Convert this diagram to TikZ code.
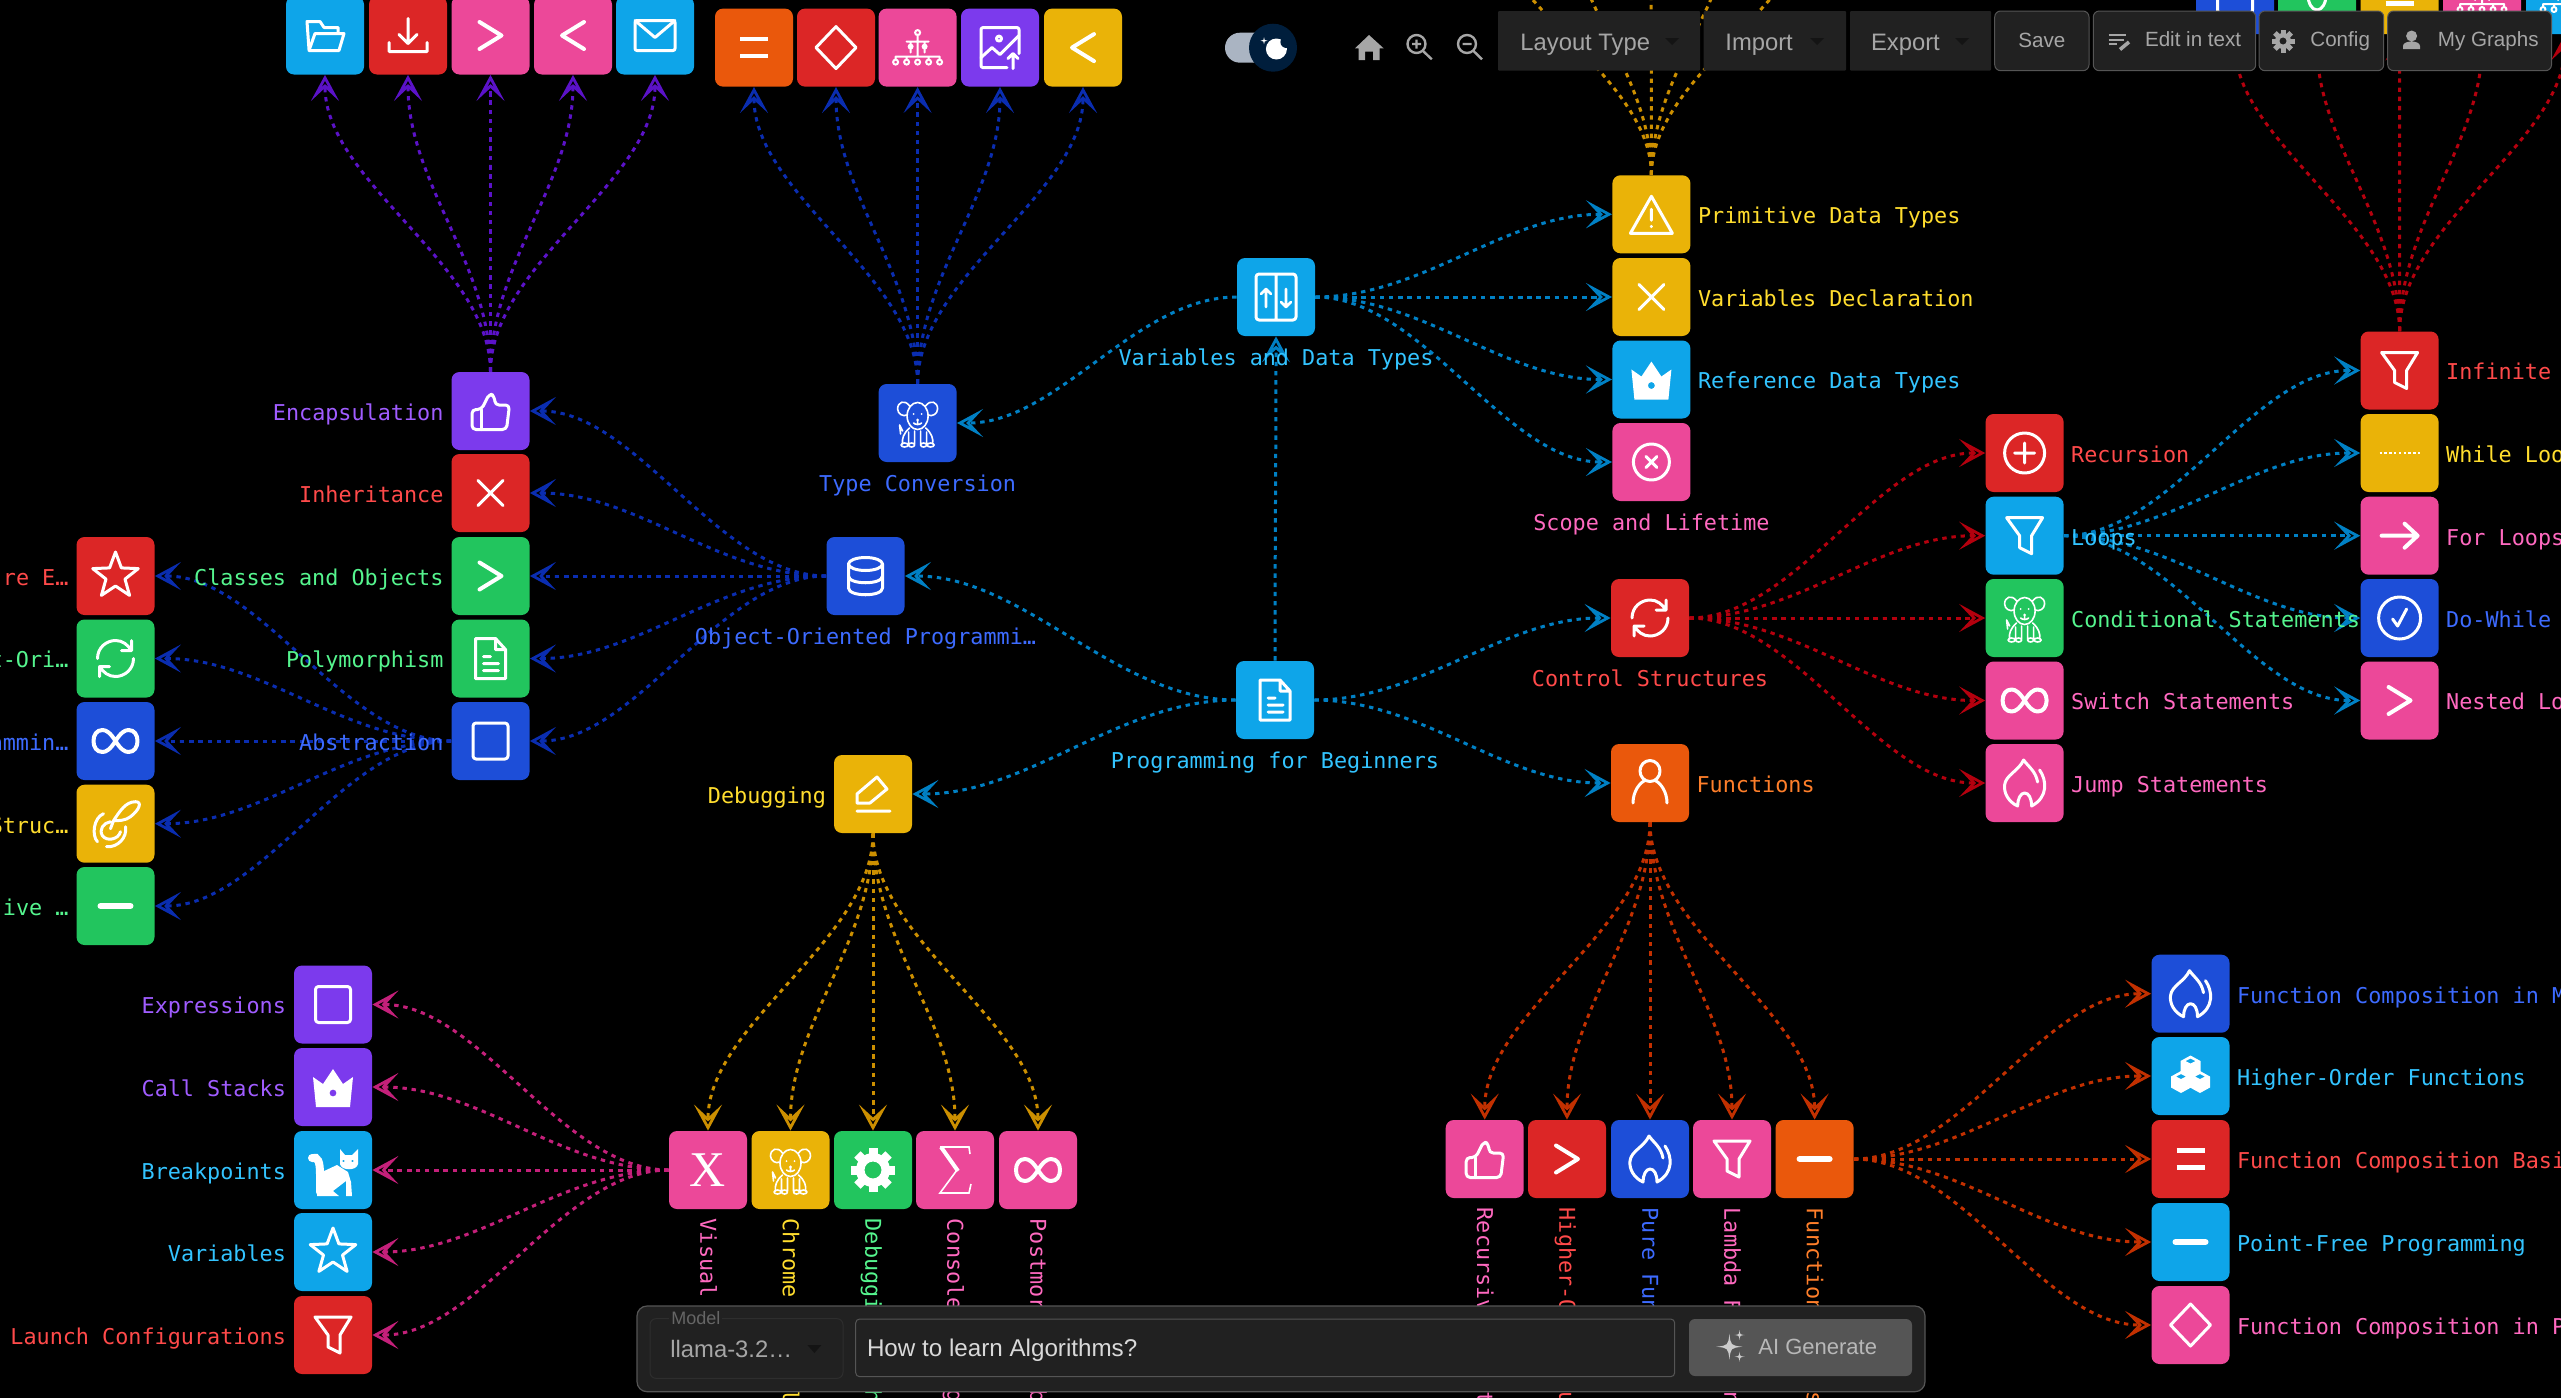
\documentclass[tikz,border=0pt]{standalone}
\usepackage{fontspec}
\setmainfont{Liberation Sans}
\setmonofont{DejaVu Sans Mono}
\newfontfamily\serifglyph{Liberation Serif}
\usepackage{tikz}
\usetikzlibrary{arrows.meta, calc, positioning, backgrounds}

% node fills
\definecolor{bviolet}{HTML}{7C3AED}
\definecolor{bred}{HTML}{DC2626}
\definecolor{bgreen}{HTML}{22C55E}
\definecolor{bblue}{HTML}{1D4ED8}
\definecolor{bsky}{HTML}{0EA5E9}
\definecolor{byellow}{HTML}{EAB308}
\definecolor{bpink}{HTML}{EC4899}
\definecolor{borange}{HTML}{EA580C}
% label colours
\definecolor{tviolet}{HTML}{A05CFF}
\definecolor{tred}{HTML}{FF4A4A}
\definecolor{tgreen}{HTML}{55F58E}
\definecolor{tblue}{HTML}{3D6BFF}
\definecolor{tsky}{HTML}{33C4FF}
\definecolor{tyellow}{HTML}{FFDD2E}
\definecolor{tpink}{HTML}{FF69C0}
\definecolor{torange}{HTML}{FF7F2A}
% link colours
\definecolor{eviolet}{HTML}{5B12C8}
\definecolor{eblue}{HTML}{0A2DB0}
\definecolor{esky}{HTML}{0080C4}
\definecolor{ered}{HTML}{B4000E}
\definecolor{eorange}{HTML}{C23000}
\definecolor{eyellow}{HTML}{CC8F00}
\definecolor{epink}{HTML}{C4207A}
% toolbar colours
\definecolor{barbg}{HTML}{212121}
\definecolor{barline}{HTML}{555555}
\definecolor{bartext}{HTML}{A6A6A6}
\definecolor{bardark}{HTML}{141414}
\definecolor{navybg}{HTML}{001E3C}
\definecolor{pillbg}{HTML}{AAB4C2}

\tikzset{
  box/.style={fill=b#1,minimum size=39pt,inner sep=0pt,rounded corners=4pt},
  lab/.style={text=t#1,font=\ttfamily\fontsize{10.9}{12}\selectfont,inner sep=0pt,text height=8pt,text depth=2.3pt},
  downlab/.style={lab=#1,rotate=-90,anchor=west},
  link/.style={draw=#1,line width=1.5pt,dash pattern=on 2.2pt off 2.4pt,-{Stealth[open,length=13pt,width=14pt,inset=6.5pt,line width=1.4pt]}},
  ic/.style={draw=white,line width=1.5pt,line cap=round,line join=round},
  menu/.style={fill=barbg,minimum height=29.85pt,inner sep=0pt,rounded corners=.5pt},
  btn/.style={fill=barbg,draw=barline,line width=.5pt,minimum height=29.85pt,inner sep=0pt,rounded corners=3pt,text=bartext,font=\fontsize{10.3}{12}\selectfont},
  bartxt/.style={text=bartext,inner sep=0pt,anchor=west,text height=8pt,text depth=2pt,font=\fontsize{#1}{14}\selectfont},
  icBlank/.pic={},
  icThumb/.pic={\draw[ic,rounded corners=2pt] (-9,-1.5)--(-1,-17.5)--(4,-15)--(4.5,-6)--(19,-6)--(16,18.5)--(-18.5,18.5)--(-18.5,-1.5)--cycle;
    \draw[ic] (-9,-1.5)--(-9,18.5);},
  icCross/.pic={\draw[ic] (-12.5,-12.5)--(12.5,12.5) (-12.5,12.5)--(12.5,-12.5);},
  icGt/.pic={\draw[ic,line width=2pt] (-11,-13.5)--(11,0)--(-11,13.5);},
  icLt/.pic={\draw[ic,line width=2pt] (11,-13.5)--(-11,0)--(11,13.5);},
  icMinus/.pic={\draw[ic,line width=3pt] (-15,0)--(15,0);},
  icEqual/.pic={\draw[ic,line width=2.3pt,line cap=butt] (-14,-8.5)--(14,-8.5) (-14,8.5)--(14,8.5);},
  icDiamond/.pic={\draw[ic] (0,-21)--(20,0)--(0,21)--(-20,0)--cycle;},
  icSquare/.pic={\draw[ic,rounded corners=1.5pt] (-17.5,-18)rectangle(17.5,18);},
  icDoc/.pic={\draw[ic] (-15,-20)--(5,-20)--(15,-9)--(15,20)--(-15,20)--cycle (5,-20)--(5,-9)--(15,-9) (-7,-2)--(0,-2) (-7,5)--(8,5) (-7,12)--(8,12);},
  icStar/.pic={\draw[ic] (0,-24)--(5.9,-8.1)--(22.8,-7.4)--(9.5,3.1)--(14.1,19.4)--(0,10)--(-14.1,19.4)--(-9.5,3.1)--(-22.8,-7.4)--(-5.9,-8.1)--cycle;},
  icCycle/.pic={\draw[ic] (-18,0) .. controls (-18,-11) and (-9,-18) .. (0,-18) .. controls (7,-18) and (12,-14) .. (16,-8) (16,-18)--(16,-8)--(6,-8)
    (18,0) .. controls (18,11) and (9,18) .. (0,18) .. controls (-7,18) and (-12,14) .. (-16,8) (-16,18)--(-16,8)--(-6,8);},
  icInf/.pic={\draw[ic,line width=2pt] (0,0) .. controls (5,-8) and (9,-11) .. (13,-11) .. controls (19,-11) and (22,-6) .. (22,0) .. controls (22,6) and (19,11) .. (13,11) .. controls (9,11) and (5,8) .. (0,0)
    .. controls (-5,-8) and (-9,-11) .. (-13,-11) .. controls (-19,-11) and (-22,-6) .. (-22,0) .. controls (-22,6) and (-19,11) .. (-13,11) .. controls (-9,11) and (-5,8) .. (0,0);},
  icRope/.pic={\draw[ic] (-12,-10) .. controls (-22,-6) and (-24,12) .. (-18,18) (-9,23) .. controls (2,24) and (12,14) .. (10,3)
    (-5,-2) .. controls (-12,-1) and (-17,6) .. (-13,12) .. controls (-9,18) and (3,16) .. (5,8)
    (-5,5)--(-2,-3) .. controls (4,-12) and (10,-22) .. (20,-22) .. controls (27,-22) and (24,-14) .. (15,-7) .. controls (10,-3) and (3,-3) .. (-2,-3);},
  icDb/.pic={\draw[ic] (0,-12) ellipse [x radius=17,y radius=6.5] (-17,-12)--(-17,12) .. controls (-17,21) and (17,21) .. (17,12)--(17,-12)
    (-17,0) .. controls (-17,9) and (17,9) .. (17,0);},
  icDog/.pic={\draw[ic,line width=.8pt] (0,-7) ellipse [x radius=10.5,y radius=13.5]
    (-8,-17) .. controls (-13,-24) and (-20,-21) .. (-20,-14) .. controls (-20,-9) and (-14,-6) .. (-11,-8)
    (8,-17) .. controls (13,-24) and (20,-21) .. (20,-14) .. controls (20,-9) and (14,-6) .. (11,-8)
    (-4,0) .. controls (-2,2) and (2,2) .. (4,0) (0,-2)--(0,1)
    (-8,5) .. controls (-14,10) and (-16,16) .. (-15,21) (8,5) .. controls (14,10) and (16,16) .. (15,21)
    (-9,9)--(-9,21) (-3,8)--(-3,21) (3,8)--(3,21) (9,9)--(9,21)
    (-13,22) ellipse [x radius=3.5,y radius=2] (-6,22) ellipse [x radius=3,y radius=2] (6,22) ellipse [x radius=3,y radius=2] (13,22) ellipse [x radius=3.5,y radius=2]
    (-15,8)--(-18,2)--(-17,11);
    \fill[white] (-4,-9) circle (1) (4,-9) circle (1) (0,-3) circle (1.6);},
  icSwap/.pic={\draw[ic,rounded corners=1.5pt] (-20,-23)rectangle(20,23) (0,-23)--(0,23);
    \draw[ic,line width=1.3pt] (-10,10)--(-10,-8) (-15,-3)--(-10,-8)--(-5,-3) (10,-8)--(10,10) (5,5)--(10,10)--(15,5);},
  icWarn/.pic={\draw[ic] (0,-18)--(21,19)--(-21,19)--cycle (0,-5)--(0,6) (0,12)--(0,12.5);},
  icCrown/.pic={\fill[white,even odd rule] (-20,-10)--(-10,-3)--(0,-18)--(10,-3)--(20,-10)--(17,20)--(-17,20)--cycle (0,6) circle (3.5);},
  icXcircle/.pic={\draw[ic] (0,0) circle (18) (-5.5,-5.5)--(5.5,5.5) (-5.5,5.5)--(5.5,-5.5);},
  icPlus/.pic={\draw[ic] (0,0) circle (20) (-10,0)--(10,0) (0,-10)--(0,10);},
  icCheck/.pic={\draw[ic] (0,0) circle (21) (-7,1)--(-2,8)--(7,-9);},
  icFunnel/.pic={\draw[ic] (-18,-18)--(18,-18)--(7,0)--(7,18)--(-5,12)--(-5,0)--cycle;},
  icDots/.pic={\draw[draw=white,line width=1.2pt,dash pattern=on 1.2pt off 1.2pt] (-20,0)--(20,0);},
  icArrow/.pic={\draw[ic,line width=2pt] (-18,0)--(18,0) (5,-12)--(18,0)--(5,12);},
  icFlame/.pic={\draw[ic] (15,-13) .. controls (22,-3) and (24,14) .. (7,23) .. controls (7,15) and (4,10) .. (0,10) .. controls (-4,10) and (-7,16) .. (-7,23) .. controls (-16,19) and (-21,10) .. (-20,2) .. controls (-19,-8) and (-6,-12) .. (-1,-23) .. controls (4,-16) and (11,-12) .. (13,-1);},
  icPencil/.pic={\draw[ic] (4,-17)--(14,-5)--(-3,9)--(-16,9)--(-16,0)--cycle (-16,17)--(17,17);},
  icPerson/.pic={\draw[ic] (0,-12) ellipse [x radius=10,y radius=10.5] (-17,20) .. controls (-17,8) and (-10,0) .. (-6,-2) (17,20) .. controls (17,8) and (10,0) .. (6,-2);},
  icGear/.pic={\foreach \a in {0,45,...,315} {\fill[white,rotate=\a] (-4.5,-22) rectangle (4.5,-10);}
    \fill[white,even odd rule] (0,0) circle (17) (0,0) circle (8.5);},
  icSigma/.pic={\draw[draw=white,line width=.8pt,line join=miter] (15,-16)--(14,-23)--(-15,-23) (2,0)--(-15,23)--(14,23)--(16,14);
    \draw[draw=white,line width=2pt] (-14,-23)--(3,1);},
  icCat/.pic={\fill[white] (-11,2)--(4,-5)--(15,2)--(18,12)--(19,26)--(13,26)--(13,11)--(0,21)--(6,26)--(-16,26)--cycle;
    \draw[draw=white,line width=4pt,line cap=round] (-21,-12) .. controls (-15,-14) and (-13,-8) .. (-13,4)--(-13,22);
    \fill[white,even odd rule] (7,-21)--(12,-15)--(19,-15)--(25,-21)--(25,-6) .. controls (24,1) and (8,1) .. (7,-6)--cycle (10.5,-9) circle (1.4) (19.5,-9) circle (1.4);},
  icCubes/.pic={\foreach \p in {(0,-9.5),(-9.5,6),(9.5,6)} {
      \fill[white,even odd rule,shift={\p}] (0,-11)--(10,-5.5)--(10,5.5)--(0,11)--(-10,5.5)--(-10,-5.5)--cycle (0,-8)--(5,-5.5)--(0,-3)--(-5,-5.5)--cycle;}},
  icFolder/.pic={\draw[ic] (-16,14)--(-18,-14)--(-5,-14)--(-1,-8)--(13,-8)--(13,-2) (-16,15)--(-10,-2)--(19,-2)--(14,15)--cycle;},
  icDown/.pic={\draw[ic] (0,-17)--(0,8) (-9,-1)--(0,8)--(9,-1) (-19,7)--(-19,16)--(19,16)--(19,7);},
  icMail/.pic={\draw[ic,rounded corners=1pt] (-20,-15)rectangle(20,15);\draw[ic] (-20,-15)--(0,2)--(20,-15);},
  icTree/.pic={\draw[ic,line width=1pt] (0,-13)--(0,9) (-11,-6)--(11,-6) (-7,-6)--(-7,5) (7,-6)--(7,5) (-22,9)--(22,9) (-22,9)--(-22,12) (-11,9)--(-11,12) (11,9)--(11,12) (22,9)--(22,12)
    (0,-15) circle (2.5) (-22,14.5) circle (2.5) (-11,14.5) circle (2.5) (0,14.5) circle (2.5) (11,14.5) circle (2.5) (22,14.5) circle (2.5);
    \fill[white] (-7,-1) circle (3) (7,-1) circle (3);},
  icImgUp/.pic={\draw[ic,rounded corners=1pt] (7,20)--(-19,20)--(-19,-20)--(19,-20)--(19,6);
    \draw[ic] (-19,10)--(-8,0)--(0,7)--(19,-12) (-1,-9) circle (2.5) (13,21)--(13,6) (8,11)--(13,6)--(18,11);},
  icOval/.pic={\draw[ic] (0,0) ellipse [x radius=9,y radius=15];},
  icMoon/.pic={\fill[white] (0,0) circle (10.5);\fill[navybg] (10,-7) circle (6);},
  icSpark/.pic={\fill[fill=#1] (0,-1) .. controls (.1,-.1) and (.1,-.1) .. (1,0) .. controls (.1,.1) and (.1,.1) .. (0,1) .. controls (-.1,.1) and (-.1,.1) .. (-1,0) .. controls (-.1,-.1) and (-.1,-.1) .. (0,-1);},
}

% curved links, the control points sit about a third of the way
\newcommand{\hlink}[3]{\coordinate (ma) at ($(#2)!.36!(#3)$);\coordinate (mb) at ($(#2)!.64!(#3)$);
  \draw[link=#1] (#2) .. controls (ma |- #2) and (mb |- #3) .. (#3);}
\newcommand{\vlink}[3]{\coordinate (ma) at ($(#2)!.36!(#3)$);\coordinate (mb) at ($(#2)!.64!(#3)$);
  \draw[link=#1] (#2) .. controls (#2 |- ma) and (#3 |- mb) .. (#3);}

\begin{document}
\begin{tikzpicture}[x=.5pt,y=-.5pt]
        \useasboundingbox (0,0) rectangle (2561,1398);

        % Row above Encapsulation
        \foreach \n/\x/\col/\ic in {rowa1/325/sky/icFolder, rowa2/408/red/icDown, rowa3/490.5/pink/icGt, rowa4/573/pink/icLt, rowa5/655/sky/icMail} {
          \node[box=\col] (\n) at (\x,35.5) {};
          \pic at (\n) {\ic};
        }
        % Row above Type Conversion
        \foreach \n/\x/\col/\ic in {rowb1/754/orange/icEqual, rowb2/836/red/icDiamond, rowb3/917.6/pink/icTree, rowb4/1000/violet/icImgUp, rowb5/1083/yellow/icLt} {
          \node[box=\col] (\n) at (\x,47.6) {};
          \pic at (\n) {\ic};
        }
        % Row above Infinite Loops, mostly under the toolbar
        \foreach \n/\x/\col/\ic in {rowc1/2235/blue/icSquare, rowc2/2317/green/icOval, rowc3/2399.5/yellow/icEqual, rowc4/2482/pink/icTree, rowc5/2565/sky/icTree} {
          \node[box=\col] (\n) at (\x,-5) {};
          \pic at (\n) {\ic};
        }
        % Row above Primitive Data Types, off the page
        \foreach \n/\x in {rowd1/1486, rowd2/1568, rowd3/1651, rowd4/1734, rowd5/1816} {
          \coordinate (\n) at (\x,-102);
        }

        % Middle topics with the label below
        \foreach \n/\x/\y/\col/\ic/\txt in {typeconv/917.6/423/blue/icDog/Type Conversion, oop/865.5/576/blue/icDb/Object-Oriented Programmi…, begin/1275/700/sky/icDoc/Programming for Beginners, vardata/1276/297/sky/icSwap/Variables and Data Types, scope/1651.4/462/pink/icXcircle/Scope and Lifetime, control/1650/618/red/icCycle/Control Structures} {
          \node[box=\col] (\n) at (\x,\y) {};
          \pic at (\n) {\ic};
          \node[lab=\col,below=6.3pt of \n] (\n-t) {\txt};
        }

        % Labels on the left
        \foreach \n/\y/\col/\ic/\txt in {encap/411/violet/icThumb/Encapsulation, inherit/493/red/icCross/Inheritance, classes/576/green/icGt/Classes and Objects, poly/658.5/green/icDoc/Polymorphism, abstr/741/blue/icSquare/Abstraction} {
          \node[box=\col] (\n) at (490.5,\y) {};
          \pic at (\n) {\ic};
          \node[lab=\col,left=3.6pt of \n,yshift=-1.8pt] (\n-t) {\txt};
        }
        \foreach \n/\y/\col/\ic/\txt in {far1/576/red/icStar/re E…, far2/658.5/green/icCycle/t-Ori…, far3/741/blue/icInf/ammin…, far4/823.7/yellow/icRope/Struc…, far5/906/green/icMinus/ive …} {
          \node[box=\col] (\n) at (115.5,\y) {};
          \pic at (\n) {\ic};
          \node[lab=\col,left=3.6pt of \n,yshift=-1.8pt] (\n-t) {\txt};
        }
        \foreach \n/\y/\col/\ic/\txt in {expr/1004.5/violet/icSquare/Expressions, stacks/1087/violet/icCrown/Call Stacks, breakp/1170/sky/icCat/Breakpoints, vars/1252/sky/icStar/Variables, launch/1335/red/icFunnel/Launch Configurations} {
          \node[box=\col] (\n) at (333,\y) {};
          \pic at (\n) {\ic};
          \node[lab=\col,left=3.6pt of \n,yshift=-1.8pt] (\n-t) {\txt};
        }
        \node[box=yellow] (debug) at (873,794) {};
        \pic at (debug) {icPencil};
        \node[lab=yellow,left=3.6pt of debug,yshift=-1.8pt] (debug-t) {Debugging};

        % Labels on the right
        \foreach \n/\y/\col/\ic/\txt in {prim/214.3/yellow/icWarn/Primitive Data Types, decl/297/yellow/icCross/Variables Declaration, refs/379.5/sky/icCrown/Reference Data Types} {
          \node[box=\col] (\n) at (1651.4,\y) {};
          \pic at (\n) {\ic};
          \node[lab=\col,right=3.4pt of \n,yshift=-1.8pt] (\n-t) {\txt};
        }
        \node[box=orange] (funcs) at (1650,783) {};
        \pic at (funcs) {icPerson};
        \node[lab=orange,right=3.4pt of funcs,yshift=-1.8pt] (funcs-t) {Functions};
        \foreach \n/\y/\col/\ic/\txt in {recur/453/red/icPlus/Recursion, loops/535.7/sky/icFunnel/Loops, cond/618/green/icDog/Conditional Statements, switch/700.5/pink/icInf/Switch Statements, jump/783/pink/icFlame/Jump Statements} {
          \node[box=\col] (\n) at (2024.6,\y) {};
          \pic at (\n) {\ic};
          \node[lab=\col,right=3.4pt of \n,yshift=-1.8pt] (\n-t) {\txt};
        }
        \foreach \n/\y/\col/\ic/\txt in {infin/370.5/red/icFunnel/Infinite, while/453/yellow/icDots/While Loo, forl/535.7/pink/icArrow/For Loops, dowh/618/blue/icCheck/Do-While, nest/700.5/pink/icGt/Nested Lo} {
          \node[box=\col] (\n) at (2399.6,\y) {};
          \pic at (\n) {\ic};
          \node[lab=\col,right=3.4pt of \n,yshift=-1.8pt] (\n-t) {\txt};
        }
        \foreach \n/\y/\col/\ic/\txt in {comp1/993.7/blue/icFlame/Function Composition in M, comp2/1076/sky/icCubes/Higher-Order Functions, comp3/1159/red/icEqual/Function Composition Basi, comp4/1242/sky/icMinus/Point-Free Programming, comp5/1325/pink/icDiamond/Function Composition in P} {
          \node[box=\col] (\n) at (2190.5,\y) {};
          \pic at (\n) {\ic};
          \node[lab=\col,right=3.4pt of \n,yshift=-1.8pt] (\n-t) {\txt};
        }

        % Rows with labels running down
        \foreach \n/\x/\col/\ic/\txt in {tool1/708/pink/icBlank/Visual, tool2/790.5/yellow/icDog/Chrome, tool3/873/green/icGear/Debuggi, tool4/955/pink/icSigma/Console, tool5/1038/pink/icInf/Postmor} {
          \node[box=\col] (\n) at (\x,1170) {};
          \pic at (\n) {\ic};
          \node[downlab=\col] (\n-t) at ($(\n.south)+(-2,9)$) {\txt};
        }
        \node[text=white,inner sep=0pt,font=\serifglyph\fontsize{25}{25}\selectfont] (tool1-x) at (tool1) {X};
        \foreach \n/\x/\col/\ic/\txt in {fn1/1484.7/pink/icThumb/Recursiv, fn2/1567/red/icGt/Higher-O, fn3/1650/blue/icFlame/Pure Fun, fn4/1732/pink/icFunnel/Lambda F, fn5/1814.6/orange/icMinus/Function} {
          \node[box=\col] (\n) at (\x,1159) {};
          \pic at (\n) {\ic};
          \node[downlab=\col] (\n-t) at ($(\n.south)+(-2,9)$) {\txt};
        }
        % What shows of those labels below the prompt bar
        \foreach \n/\col/\txt in {tool2/yellow/l, tool3/green/h, tool4/pink/g, tool5/pink/b} {
          \node[downlab=\col] (\n-e) at ($(\n.south)+(-2,180)$) {\txt};
        }
        \foreach \n/\col/\txt in {fn1/pink/t, fn2/red/u, fn4/pink/n, fn5/orange/s} {
          \node[downlab=\col] (\n-e) at ($(\n.south)+(-2,193)$) {\txt};
        }

        % Links go under the labels
        \begin{pgfonlayer}{background}
        \fill[black] (0,0) rectangle (2561,1398);
        \vlink{esky}{begin.north}{vardata.south}
        \hlink{esky}{vardata.west}{typeconv.east}
        \hlink{esky}{begin.west}{oop.east}
        \hlink{esky}{begin.west}{debug.east}
        \hlink{esky}{begin.east}{control.west}
        \hlink{esky}{begin.east}{funcs.west}
        \foreach \n in {prim,decl,refs,scope} {\hlink{esky}{vardata.east}{\n.west}}
        \foreach \n in {encap,inherit,classes,poly,abstr} {\hlink{eblue}{oop.west}{\n.east}}
        \foreach \n in {far1,far2,far3,far4,far5} {\hlink{eblue}{abstr.west}{\n.east}}
        \foreach \n in {rowa1,rowa2,rowa3,rowa4,rowa5} {\vlink{eviolet}{encap.north}{\n.south}}
        \foreach \n in {rowb1,rowb2,rowb3,rowb4,rowb5} {\vlink{eblue}{typeconv.north}{\n.south}}
        \foreach \n in {rowc1,rowc2,rowc3,rowc4,rowc5} {\vlink{ered}{infin.north}{\n.south}}
        \foreach \n in {rowd1,rowd2,rowd3,rowd4,rowd5} {\vlink{eyellow}{prim.north}{\n}}
        \foreach \n in {recur,loops,cond,switch,jump} {\hlink{ered}{control.east}{\n.west}}
        \foreach \n in {infin,while,forl,dowh,nest} {\hlink{esky}{loops.east}{\n.west}}
        \foreach \n in {fn1,fn2,fn3,fn4,fn5} {\vlink{eorange}{funcs.south}{\n.north}}
        \foreach \n in {comp1,comp2,comp3,comp4,comp5} {\hlink{eorange}{fn5.east}{\n.west}}
        \foreach \n in {tool1,tool2,tool3,tool4,tool5} {\vlink{eyellow}{debug.south}{\n.north}}
        \foreach \n in {expr,stacks,breakp,vars,launch} {\hlink{epink}{tool1.west}{\n.east}}
        \end{pgfonlayer}

        % Theme switch and view buttons
        \fill[pillbg,rounded corners=7.5pt] (1225,32.7) rectangle (1290,62.7);
        \node[circle,fill=navybg,minimum size=24pt,inner sep=0pt] (theme) at (1273,47.7) {};
        \pic at (1276.4,49) {icMoon};
        \pic[scale=3.5] at (1264,40.7) {icSpark=white};
        \fill[bartext] (1369,35)--(1383.6,48.3)--(1379.5,48.3)--(1379.5,60)--(1373,60)--(1373,51.7)--(1365,51.7)--(1365,60)--(1358.7,60)--(1358.7,48.3)--(1355,48.3)--cycle;
        \draw[bartext,line width=1.2pt] (1416.5,44) circle (9) (1423,51)--(1431.8,59.3) (1412,44)--(1421,44) (1416.5,39.5)--(1416.5,48.5);
        \draw[bartext,line width=1.2pt] (1467,44) circle (9) (1473.5,51)--(1482,59.3) (1462.5,44)--(1471.5,44);

        % Toolbar
        \node[menu,minimum width=101pt] (layoutbtn) at (1599,40.85) {};
        \node[menu,minimum width=71.25pt] (importbtn) at (1774.75,40.85) {};
        \node[menu,minimum width=70.5pt] (exportbtn) at (1920.5,40.85) {};
        \node[bartxt=11.9] (layoutbtn-t) at (1520,44) {Layout Type};
        \node[bartxt=11.9] (importbtn-t) at (1725,44) {Import};
        \node[bartxt=11.9] (exportbtn-t) at (1870.6,44) {Export};
        \foreach \x in {1672,1817,1962} {
          \fill[bardark] (\x-7,38)--(\x+7,38)--(\x,45)--cycle;
        }
        \node[btn,minimum width=47.15pt] (savebtn) at (2041.85,40.85) {Save};
        \node[btn,minimum width=81.2pt] (editbtn) at (2174.5,40.85) {};
        \node[btn,minimum width=62.35pt] (configbtn) at (2321.35,40.85) {};
        \node[btn,minimum width=81.9pt] (graphsbtn) at (2469.6,40.85) {};
        \node[bartxt=10.3] (editbtn-t) at (2144.6,40.7) {Edit in text};
        \node[bartxt=10.3] (configbtn-t) at (2310,40.7) {Config};
        \node[bartxt=10.3] (graphsbtn-t) at (2437.5,40.7) {My Graphs};
        \draw[bartext,line width=1pt] (2108.7,35)--(2126,35) (2108.7,39.5)--(2124,39.5) (2108.7,44)--(2117,44);
        \draw[bartext,line width=1.8pt] (2129,42)--(2120,49.5);
        \foreach \a in {0,45,...,315} {\fill[bartext,shift={(2283,41)},rotate=\a] (-2.5,-11.5) rectangle (2.5,-6);}
        \fill[bartext,even odd rule] (2283,41) circle (8) (2283,41) circle (3.6);
        \fill[bartext] (2411.6,36) circle (5.5) (2403,49)--(2403,46) .. controls (2403,40) and (2420,40) .. (2420,46)--(2420,49)--cycle;

        % Prompt bar
        \node[menu,draw=barline,line width=.6pt,rounded corners=5pt,minimum width=644pt,minimum height=42.85pt] (promptbar) at (1281,1348.85) {};
        \node[menu,draw=barline!25!barbg,line width=.5pt,rounded corners=3pt,minimum width=96.5pt] (modelbox) at (746.5,1348.5) {};
        \node[bartxt=9,text=barline!90!white,fill=barbg,inner xsep=1pt] (modelbox-t) at (669,1318) {Model};
        \node[bartxt=11.9,text=bartext] (modelbox-v) at (670,1351) {llama-3.2…};
        \fill[bardark] (807.4,1345)--(821.4,1345)--(814.4,1353)--cycle;
        \node[menu,draw=barline,line width=.5pt,rounded corners=2pt,minimum width=409.5pt,minimum height=28.85pt] (askbox) at (1265.2,1347.85) {};
        \node[bartxt=12.1,text=white!85!black] (askbox-t) at (866.6,1350) {How to learn Algorithms?};
        \node[menu,fill=barline,rounded corners=3pt,minimum width=111.5pt,minimum height=28.5pt] (genbtn) at (1800.5,1347.5) {};
        \node[bartxt=11,text=white!72!black] (genbtn-t) at (1758,1348) {AI Generate};
        \pic[scale=13] at (1729.4,1346.7) {icSpark=white!80!black};
        \pic[scale=5] at (1739.5,1335) {icSpark=white!80!black};
        \pic[scale=5] at (1739.5,1356.7) {icSpark=white!80!black};
\end{tikzpicture}
\end{document}
